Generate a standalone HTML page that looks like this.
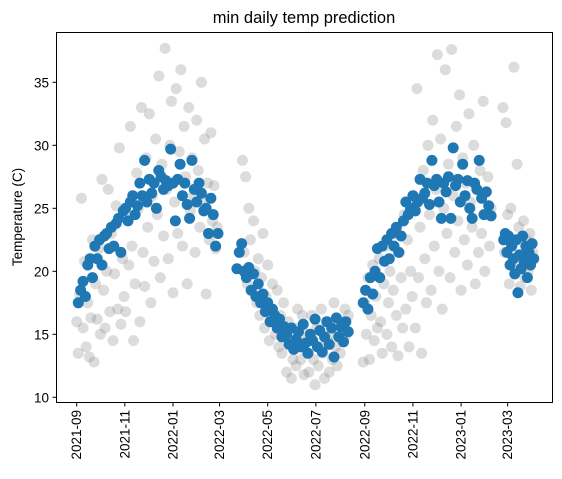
<!DOCTYPE html>
<html><head><meta charset="utf-8"><style>
html,body{margin:0;padding:0;background:#fff;}
svg{display:block;font-family:"Liberation Sans","DejaVu Sans",sans-serif;}
</style></head><body>
<svg id="chart" width="562" height="479" viewBox="0 0 562 479">
<text x="304" y="23" text-anchor="middle" font-size="16.5" fill="#000">min daily temp prediction</text>
<text transform="translate(22,217) rotate(-90)" text-anchor="middle" font-size="13.5" fill="#000">Temperature (C)</text>
<g id="actual"></g>
<g id="pred"></g>
<g id="axes"></g>
<rect x="56.5" y="32.5" width="496" height="370" fill="none" stroke="#000" stroke-width="1"/>
</svg>
<script>
const xTickLabels=["2021-09","2021-11","2022-01","2022-03","2022-05","2022-07","2022-09","2022-11","2023-01","2023-03"];
const xTickDays=[0,61,122,181,242,303,365,426,487,546];
const yTickValues=[10,15,20,25,30,35];
const predStart=[2,203,363,541];
const predStep=[3,3,3,2];
const predVals1=[17.5,18.5,19.2,18.0,20.5,21.0,19.5,22.0,21.0,22.5,20.5,22.8,23.0,21.8,23.5,22.0,23.8,24.2,21.5,24.8,25.0,24.0,25.5,26.0,24.5,25.2,27.0,26.0,28.8,25.5,27.3,26.2,27.0,25.0,28.0,27.5,26.5,27.2,26.8,29.7,27.0,24.0,27.3,28.5,26.0,27.0,25.3,24.2,28.8,26.5,25.5,27.0,26.2,24.8,25.0,23.0,25.8,24.5,22.0,23.0];
const predVals2=[20.2,21.5,22.2,20.0,19.5,20.3,18.5,19.8,18.0,19.0,17.5,18.2,16.8,17.5,16.0,17.0,16.5,15.5,16.2,14.8,15.6,15.0,14.2,15.5,13.8,14.6,15.2,14.0,15.8,14.3,13.5,15.0,14.5,16.2,14.0,15.3,13.6,14.8,16.0,14.2,15.5,13.2,16.3,14.8,15.6,14.4,16.0,15.2];
const predVals3=[17.5,18.5,17.0,19.5,18.2,20.0,21.8,19.5,22.0,20.8,22.5,21.0,23.0,22.0,23.5,21.5,22.8,24.0,25.5,24.5,25.0,26.0,24.8,25.5,27.3,25.8,26.2,27.0,25.3,28.8,26.8,27.3,25.5,24.2,27.0,26.3,27.5,24.2,29.8,26.8,27.3,25.5,28.5,26.0,27.2,25.0,24.2,27.0,26.5,28.8,25.8,24.5,26.3,25.2,24.4];
const predVals4=[22.5,23.0,21.5,22.8,20.5,22.0,21.0,19.8,22.5,18.3,21.3,20.2,22.8,20.8,22.0,19.5,21.5,20.5,22.2,21.0];
const actStart=[0,210,363,540];
const actStep=[2,2,2,2];
const actVals1=[16.0,13.5,18.2,25.8,15.5,20.8,14.0,17.5,13.2,16.3,22.5,12.8,19.0,16.2,21.8,15.0,27.3,18.5,15.5,20.0,26.5,16.8,23.0,14.5,19.8,25.2,17.0,29.8,15.8,21.0,18.0,16.8,24.5,20.5,31.5,22.0,14.5,19.0,27.8,25.0,16.0,33.0,21.5,18.8,29.0,23.5,32.5,17.5,26.0,20.8,30.5,24.5,35.5,19.5,28.5,22.8,37.7,26.5,21.0,30.0,33.5,18.3,25.5,34.5,23.0,29.5,36.0,22.0,31.5,27.5,19.0,33.0,24.8,29.0,26.0,21.5,32.0,28.0,23.5,35.0,25.5,30.5,18.2,27.0,22.5,31.0,24.0,26.8,21.8,23.5];
const actVals2=[28.8,21.5,27.5,19.0,25.0,22.5,18.5,24.0,20.0,17.5,21.0,16.5,19.5,23.0,15.5,18.0,20.5,14.5,17.0,19.0,16.0,15.0,18.5,14.0,16.5,13.5,17.5,15.5,12.0,16.0,14.5,11.5,13.0,15.5,12.5,17.0,14.0,13.0,16.5,11.8,15.0,13.5,12.0,14.5,16.5,13.0,11.0,15.5,12.5,14.0,17.0,13.5,11.5,16.0,14.5,12.0,15.0,13.0,17.5,14.0,12.5,15.5,13.5,16.0,14.5,17.0,15.0,16.5];
const actVals3=[12.8,17.5,15.0,19.5,13.0,16.5,20.5,14.5,18.0,15.5,21.0,16.0,13.5,19.0,22.0,15.0,17.5,20.0,14.0,18.5,23.0,16.5,13.3,21.5,19.5,15.5,24.5,17.0,22.5,14.0,20.0,18.0,26.0,15.5,34.5,19.5,23.5,13.5,28.0,21.0,17.5,30.0,24.5,18.5,32.0,22.0,26.5,37.2,20.0,30.5,17.0,25.0,36.0,23.0,28.5,19.5,37.6,26.0,21.5,31.5,24.0,34.0,18.5,29.0,22.5,27.0,20.5,32.5,25.5,23.5,30.0,19.0,26.5,21.5,28.0,23.0,33.5,20.0,24.5,27.5,22.0,25.0];
const actVals4=[33.0,21.5,31.8,24.5,19.0,25.0,22.0,36.2,20.5,28.5,23.5,18.8,21.0,24.0,19.5,22.5,20.0,23.0,18.5,21.5];

const NS="http://www.w3.org/2000/svg";
function xs(d){return 76.7+d*0.7893;}
function ys(v){return 397.3-(v-10)*12.6;}
function drawSeries(g,starts,steps,valsList,fill,name){
  valsList.forEach((vals,si)=>{
    vals.forEach((v,i)=>{
      const c=document.createElementNS(NS,"circle");
      c.setAttribute("cx",xs(starts[si]+i*steps[si]));
      c.setAttribute("cy",ys(v));
      c.setAttribute("r",5.5);
      c.setAttribute("fill",fill);
      
      
      g.appendChild(c);
    });
  });
}
drawSeries(document.getElementById("actual"),actStart,actStep,[actVals1,actVals2,actVals3,actVals4],"rgba(128,128,128,0.28)","actual-point");
drawSeries(document.getElementById("pred"),predStart,predStep,[predVals1,predVals2,predVals3,predVals4],"#1f77b4","prediction-point");
const axes=document.getElementById("axes");
xTickDays.forEach((d,i)=>{
  const x=xs(d);
  const t=document.createElementNS(NS,"line");
  t.setAttribute("x1",x);t.setAttribute("x2",x);t.setAttribute("y1",402.5);t.setAttribute("y2",406.5);
  t.setAttribute("stroke","#000");
  
  
  axes.appendChild(t);
  const l=document.createElementNS(NS,"text");
  l.setAttribute("transform","translate("+(x+4.5)+",410) rotate(-90)");
  l.setAttribute("text-anchor","end");
  l.setAttribute("font-size","13.5");
  l.textContent=xTickLabels[i];
  
  
  axes.appendChild(l);
});
yTickValues.forEach(v=>{
  const y=ys(v);
  const t=document.createElementNS(NS,"line");
  t.setAttribute("x1",52.5);t.setAttribute("x2",56.5);t.setAttribute("y1",y);t.setAttribute("y2",y);
  t.setAttribute("stroke","#000");
  
  
  axes.appendChild(t);
  const l=document.createElementNS(NS,"text");
  l.setAttribute("x",49);l.setAttribute("y",y+5);
  l.setAttribute("text-anchor","end");
  l.setAttribute("font-size","13.5");
  l.textContent=v;
  
  
  axes.appendChild(l);
});
</script>
</body></html>
